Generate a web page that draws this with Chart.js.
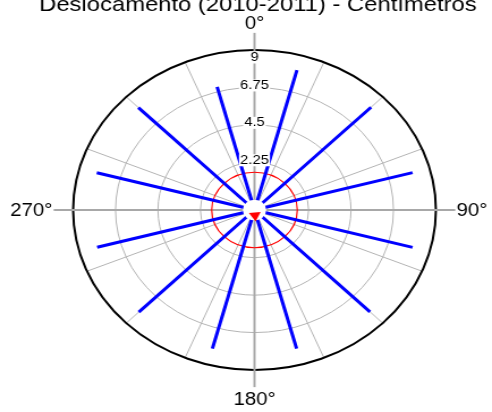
<!DOCTYPE html>
<html>
<head>
<meta charset="utf-8">
<script src="https://cdn.jsdelivr.net/npm/chart.js@4/dist/chart.umd.min.js"></script>
<style>
    html, body { margin: 0; padding: 0; background: #fff; }
    /* the reference is a square plot stretched sideways */
    #wrap { width: 434px; height: 412px; transform: scaleX(1.1336); transform-origin: 0 0; }
</style>
</head>
<body>
<div id="wrap"><canvas id="polarChart"></canvas></div>
<script>
// one spoke per month, direction in degrees clockwise from north
const directions = [15, 45, 75, 105, 135, 165, 195, 225, 255, 285, 315, 345];
const values = [8.08, 8.12, 8.06, 8.06, 8.04, 8.01, 8.01, 8.06, 8.02, 8.04, 8.09, 7.04];
const ringTicks = [2.25, 4.5, 6.75, 9];
const ringLabels = ['2.25', '4.5', '6.75', '9'];
const axisAngles = [0, 90, 180, 270];
const axisLabels = ['0°', '90°', '180°', '270°'];
const meanRadius = 1.65;
const meanDirection = 175;
const meanArrow = 0.33;
const titleText = 'Deslocamento (2010-2011) - Centímetros';

const HOLE = 0.62;              // empty centre of the radial axis
const LIM = 9 + HOLE;
const FONT = '"Liberation Sans", Arial, sans-serif';

function polar(r, deg) {
    const a = deg * Math.PI / 180;
    return { x: r * Math.sin(a), y: r * Math.cos(a) };
}

const datasets = values.map(function (v, i) {
    return {
        data: [{ x: 0, y: 0 }, polar(v + HOLE, directions[i])],
        showLine: true,
        borderColor: '#0000ff',
        borderWidth: 3,
        pointRadius: 0,
        order: 2
    };
});

// red arrow head at the centre (mean vector)
datasets.push({
    data: [polar(meanArrow, meanDirection)],
    pointStyle: 'triangle',
    rotation: meanDirection,
    pointRadius: 6,
    backgroundColor: '#ff0000',
    borderColor: '#ff0000',
    borderWidth: 0,
    order: 1
});
const arrowIndex = datasets.length - 1;

function ellipse(ctx, xs, ys, r) {
    const cx = xs.getPixelForValue(0), cy = ys.getPixelForValue(0);
    const rx = xs.getPixelForValue(r) - cx, ry = cy - ys.getPixelForValue(r);
    ctx.beginPath();
    ctx.ellipse(cx, cy, rx, ry, 0, 0, Math.PI * 2);
}

function ray(ctx, xs, ys, r, deg) {
    const p = polar(r, deg);
    ctx.beginPath();
    ctx.moveTo(xs.getPixelForValue(0), ys.getPixelForValue(0));
    ctx.lineTo(xs.getPixelForValue(p.x), ys.getPixelForValue(p.y));
    ctx.stroke();
}

const polarGrid = {
    id: 'polarGrid',
    beforeDatasetsDraw(chart) {
        const ctx = chart.ctx, xs = chart.scales.x, ys = chart.scales.y;
        ctx.save();
        // thin spokes
        ctx.strokeStyle = '#b4b4b4';
        ctx.lineWidth = 1;
        for (let d = 0; d < 360; d += 22.5) {
            if (d % 90 !== 0) ray(ctx, xs, ys, LIM, d);
        }
        // rings
        ringTicks.forEach(function (t, i) {
            ellipse(ctx, xs, ys, t + HOLE);
            if (i === ringTicks.length - 1) {
                ctx.strokeStyle = '#000';
                ctx.lineWidth = 2;
            } else {
                ctx.strokeStyle = '#b4b4b4';
                ctx.lineWidth = 1;
            }
            ctx.stroke();
        });
        // main axes
        ctx.strokeStyle = '#a8a8a8';
        ctx.lineWidth = 2;
        axisAngles.forEach(function (d) { ray(ctx, xs, ys, LIM + 1.03, d); });
        // mean ring
        ellipse(ctx, xs, ys, meanRadius + HOLE);
        ctx.strokeStyle = '#ff0000';
        ctx.lineWidth = 1.2;
        ctx.stroke();
        ctx.restore();
    },
    beforeDatasetDraw(chart, args) {
        if (args.index !== arrowIndex) return;
        const ctx = chart.ctx, xs = chart.scales.x, ys = chart.scales.y;
        ctx.save();
        ellipse(ctx, xs, ys, HOLE);
        ctx.fillStyle = '#fff';
        ctx.fill();
        ctx.restore();
    },
    afterDraw(chart) {
        const ctx = chart.ctx, xs = chart.scales.x, ys = chart.scales.y;
        const cx = xs.getPixelForValue(0), cy = ys.getPixelForValue(0);
        ctx.save();
        ctx.fillStyle = '#000';

        // radial tick labels on a white box
        ctx.font = '13px ' + FONT;
        ctx.textAlign = 'center';
        ctx.textBaseline = 'middle';
        ringTicks.forEach(function (t, i) {
            const r = i === ringTicks.length - 1 ? t + HOLE - 0.45 : t + HOLE + 0.12;
            const y = ys.getPixelForValue(r);
            const w = ctx.measureText(ringLabels[i]).width;
            ctx.fillStyle = '#fff';
            ctx.fillRect(cx - w / 2 - 1, y - 6, w + 2, 12);
            ctx.fillStyle = '#000';
            ctx.fillText(ringLabels[i], cx, y);
        });

        // compass labels
        ctx.font = '18px ' + FONT;
        const out = LIM + 1.1;
        ctx.textAlign = 'center';
        ctx.fillText(axisLabels[0], cx, ys.getPixelForValue(out + 0.45));
        ctx.fillText(axisLabels[2], cx, ys.getPixelForValue(-out - 0.72));
        ctx.textAlign = 'left';
        ctx.fillText(axisLabels[1], xs.getPixelForValue(out), cy + 1);
        ctx.textAlign = 'right';
        ctx.fillText(axisLabels[3], xs.getPixelForValue(-out), cy + 1);

        // title, cut off at the top
        ctx.font = '21px ' + FONT;
        ctx.textAlign = 'center';
        ctx.textBaseline = 'alphabetic';
        ctx.fillText(titleText, cx + 3, 11);
        ctx.restore();
    }
};

new Chart(document.getElementById('polarChart'), {
    type: 'scatter',
    data: { datasets: datasets },
    options: {
        responsive: true,
        maintainAspectRatio: false,
        animation: false,
        layout: { padding: { left: 64.5, right: 49.5, top: 50, bottom: 42 } },
        plugins: { legend: { display: false }, tooltip: { enabled: false } },
        scales: {
            x: { type: 'linear', min: -LIM, max: LIM, display: false },
            y: { type: 'linear', min: -LIM, max: LIM, display: false }
        }
    },
    plugins: [polarGrid]
});
</script>
</body>
</html>
